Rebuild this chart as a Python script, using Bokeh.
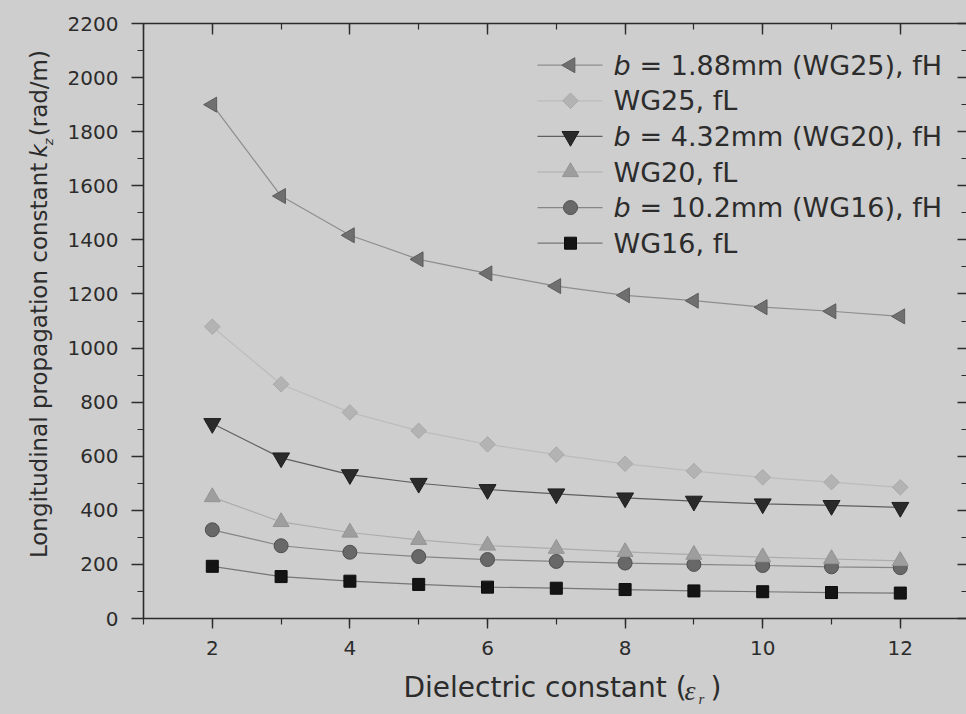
import numpy as np
from bokeh.plotting import figure
from bokeh.layouts import column, row
from bokeh.models import Range1d, LinearAxis, SingleIntervalTicker, Label
from bokeh.embed import file_html
from bokeh.resources import INLINE

# Dielectric constant of the filling
eps_r = [2, 3, 4, 5, 6, 7, 8, 9, 10, 11, 12]

# Longitudinal propagation constant kz (rad/m)
wg25_fh = [1900, 1562, 1417, 1328, 1276, 1229, 1195, 1175, 1151, 1136, 1117]
wg25_fl = [1079, 866, 762, 694, 644, 606, 572, 545, 522, 504, 485]
wg20_fh = [721, 594, 532, 500, 477, 461, 446, 434, 424, 418, 411]
wg20_fl = [449, 357, 318, 291, 270, 258, 246, 236, 227, 220, 213]
wg16_fh = [328, 269, 245, 229, 218, 211, 205, 200, 196, 191, 188]
wg16_fl = [193, 155, 138, 126, 116, 112, 107, 102, 99, 96, 94]

legend_labels = [
    ("b", "= 1.88mm (WG25), fH"),
    (None, "WG25, fL"),
    ("b", "= 4.32mm (WG20), fH"),
    (None, "WG20, fL"),
    ("b", "= 10.2mm (WG16), fH"),
    (None, "WG16, fL"),
]

FONT = "DejaVu Sans"
BG = "#cecece"
INK = "#2c2c2c"

W, H = 966, 714
STRIP_W = 60          # strip on the left holding the y title
STRIP_H = 44          # strip at the bottom holding the x title
MAIN_W, MAIN_H = W - STRIP_W, H - STRIP_H

# frame edges in page pixels
LEFT, RIGHT, TOP, BOTTOM = 143, 966, 23, 618
PX_PER_X = 68.8
X_START = 1.0
X_END = X_START + (RIGHT - LEFT) / PX_PER_X
Y_START, Y_END = 0, 2200


def at(px, py):
    """Page pixel position (from the top-left corner) in data units of the chart."""
    x = X_START + (px - LEFT) / PX_PER_X
    y = Y_START + (BOTTOM - py) * (Y_END - Y_START) / (BOTTOM - TOP)
    return x, y


p = figure(width=MAIN_W, height=MAIN_H,
           x_range=Range1d(X_START, X_END), y_range=Range1d(Y_START, Y_END),
           output_backend="svg", toolbar_location=None,
           min_border_left=LEFT - STRIP_W, min_border_right=0,
           min_border_top=TOP, min_border_bottom=MAIN_H - BOTTOM,
           background_fill_color=BG, border_fill_color=BG,
           outline_line_color=None)
p.grid.visible = False


def style_axis(ax, major_in, major_out, minor_in, minor_out, labels=True, standoff=12):
    ax.axis_line_color = INK
    ax.axis_line_width = 1.6
    ax.major_tick_line_color = INK
    ax.minor_tick_line_color = INK
    ax.major_tick_line_width = 1.4
    ax.minor_tick_line_width = 1.2
    ax.major_tick_in = major_in
    ax.major_tick_out = major_out
    ax.minor_tick_in = minor_in
    ax.minor_tick_out = minor_out
    if labels:
        ax.major_label_text_font = FONT
        ax.major_label_text_font_size = "20px"
        ax.major_label_text_color = INK
        ax.major_label_standoff = standoff
    else:
        ax.major_label_text_color = None
        ax.major_label_text_font_size = "1px"
        ax.major_label_standoff = 0


xb = p.xaxis[0]
xb.ticker = SingleIntervalTicker(interval=2, num_minor_ticks=2)
style_axis(xb, 0, 10, 0, 6, standoff=12)

yl = p.yaxis[0]
yl.ticker = SingleIntervalTicker(interval=200, num_minor_ticks=2)
style_axis(yl, 0, 12, 0, 6, standoff=13)

xt = LinearAxis(ticker=SingleIntervalTicker(interval=2, num_minor_ticks=2))
style_axis(xt, 11, 0, 6, 0, labels=False)
p.add_layout(xt, "above")

yr = LinearAxis(ticker=SingleIntervalTicker(interval=200, num_minor_ticks=2))
style_axis(yr, 9, 0, 5, 0, labels=False)
yr.axis_line_color = None
p.add_layout(yr, "right")

# series styles: (values, marker, size, angle, fill, edge, line colour)
series = [
    (wg25_fh, "triangle", 15, np.pi / 2, "#6f6f6f", "#5c5c5c", "#8e8e8e"),
    (wg25_fl, "square", 11, np.pi / 4, "#b3b3b3", "#a9a9a9", "#bcbcbc"),
    (wg20_fh, "inverted_triangle", 17, 0.0, "#2a2a2a", "#1e1e1e", "#5f5f5f"),
    (wg20_fl, "triangle", 16, 0.0, "#9e9e9e", "#949494", "#acacac"),
    (wg16_fh, "circle", 14, 0.0, "#686868", "#4e4e4e", "#858585"),
    (wg16_fl, "square", 12, 0.0, "#141414", "#0c0c0c", "#767676"),
]

# circles first so the light triangles sit on top where they overlap
draw_order = [0, 1, 2, 4, 3, 5]
for i in draw_order:
    vals, mk, sz, ang, fill, edge, lc = series[i]
    p.line(eps_r, vals, line_color=lc, line_width=1.2)
    p.scatter(eps_r, vals, marker=mk, size=sz, angle=ang,
              fill_color=fill, line_color=edge, line_width=1)

# legend, upper right
LEG_ROW0, LEG_DY = 64.7, 35.6
LEG_LINE_X0, LEG_LINE_X1, LEG_MARK_X, LEG_TEXT_X = 537, 602, 570, 613
LEG_FONT = "27px"
for i, (vals, mk, sz, ang, fill, edge, lc) in enumerate(series):
    cy = LEG_ROW0 + i * LEG_DY
    xa, ya = at(LEG_LINE_X0, cy)
    xb1, _ = at(LEG_LINE_X1, cy)
    xm, _ = at(LEG_MARK_X, cy)
    p.line([xa, xb1], [ya, ya], line_color=lc, line_width=1.2)
    p.scatter([xm], [ya], marker=mk, size=sz, angle=ang,
              fill_color=fill, line_color=edge, line_width=1)
    ital, rest = legend_labels[i]
    tx, ty = at(LEG_TEXT_X, cy)
    if ital:
        p.add_layout(Label(x=tx, y=ty, text=ital, text_font=FONT, text_font_size=LEG_FONT,
                           text_font_style="italic", text_color=INK,
                           text_align="left", text_baseline="middle"))
        tx, _ = at(LEG_TEXT_X + 26, cy)
    p.add_layout(Label(x=tx, y=ty, text=rest, text_font=FONT, text_font_size=LEG_FONT,
                       text_color=INK, text_align="left", text_baseline="middle"))


def strip(width, height):
    f = figure(width=width, height=height, x_range=Range1d(0, width), y_range=Range1d(0, height),
               output_backend="svg", toolbar_location=None,
               x_axis_location=None, y_axis_location=None,
               min_border=0, background_fill_color=BG, border_fill_color=BG,
               outline_line_color=None)
    f.grid.visible = False
    return f


# y axis title: Longitudinal propagation constant kz (rad/m), reading upwards
ytitle = strip(STRIP_W, MAIN_H)
YT_MID = 38
pieces_y = [
    (YT_MID, 602, "Longitudinal propagation constant", FONT, "23px", "normal"),
    (YT_MID, 151, "k", FONT, "23px", "italic"),
    (YT_MID + 10, 137, "z", FONT, "13px", "italic"),
    (YT_MID, 127, "(rad/m)", FONT, "23px", "normal"),
]
for px, py, txt, fnt, fs, st in pieces_y:
    ytitle.add_layout(Label(x=px, y=MAIN_H - py, text=txt, text_font=fnt, text_font_size=fs,
                            text_font_style=st, text_color=INK, angle=np.pi / 2,
                            text_align="left", text_baseline="middle"))

# x axis title: Dielectric constant (εr)
xtitle = strip(W, STRIP_H)
XT_MID = 687
pieces_x = [
    (403, XT_MID, "Dielectric constant (", FONT, "28px", "normal"),
    (684, XT_MID + 3, "ε", "Liberation Serif", "28px", "italic"),
    (698, XT_MID + 11, "r", "Liberation Serif", "15px", "italic"),
    (710, XT_MID, ")", FONT, "28px", "normal"),
]
for px, py, txt, fnt, fs, st in pieces_x:
    xtitle.add_layout(Label(x=px, y=H - py, text=txt, text_font=fnt, text_font_size=fs,
                            text_font_style=st, text_color=INK,
                            text_align="left", text_baseline="middle"))

top_row = row(ytitle, p, spacing=0)
top_row.styles = {"background-color": BG}
page = column(top_row, xtitle, spacing=0)
page.styles = {"background-color": BG}
open("out.html", "w").write(file_html(page, INLINE))
